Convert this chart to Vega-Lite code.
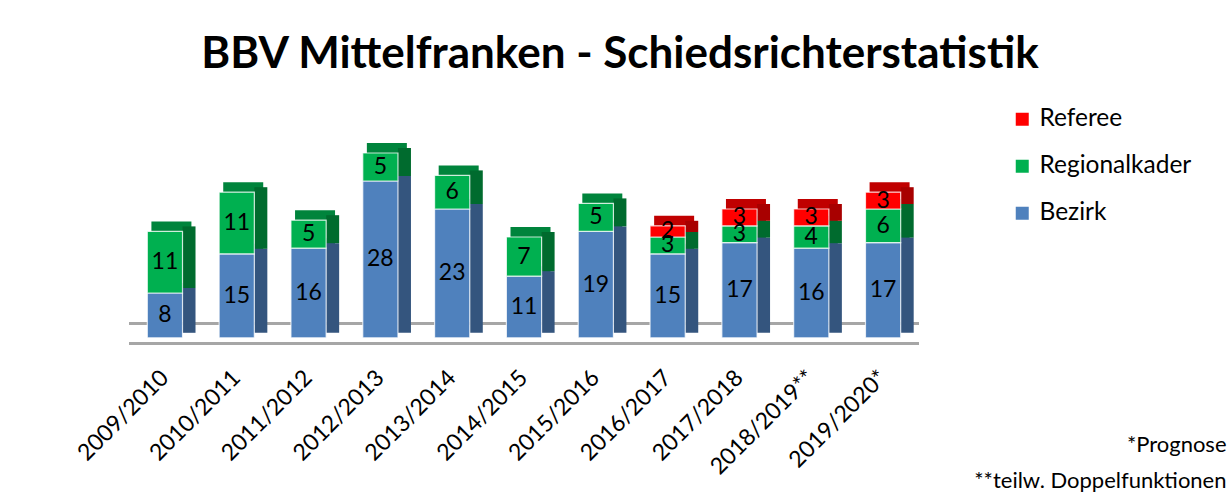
{
  "$schema": "https://vega.github.io/schema/vega-lite/v6.json",
  "width": 790,
  "height": 212.8,
  "autosize": "none",
  "padding": {"left": 129, "top": 125, "right": 312, "bottom": 163},
  "background": "white",
  "config": {"view": {"stroke": null}, "font": "Lato"},
  "title": {
    "text": "BBV Mittelfranken - Schiedsrichterstatistik",
    "fontSize": 44, "font": "Lato", "fontWeight": "bold", "color": "black",
    "anchor": "middle", "frame": "group", "dx": 96, "offset": -5, "baseline": "alphabetic"
  },
  "datasets": {
    "seriesOrder": [
      {"series": "Bezirk", "rank": 1},
      {"series": "Regionalkader", "rank": 2},
      {"series": "Referee", "rank": 3}
    ],
    "refs": [
      {"season": "2009/2010", "series": "Bezirk", "value": 8},
      {"season": "2009/2010", "series": "Regionalkader", "value": 11},
      {"season": "2010/2011", "series": "Bezirk", "value": 15},
      {"season": "2010/2011", "series": "Regionalkader", "value": 11},
      {"season": "2011/2012", "series": "Bezirk", "value": 16},
      {"season": "2011/2012", "series": "Regionalkader", "value": 5},
      {"season": "2012/2013", "series": "Bezirk", "value": 28},
      {"season": "2012/2013", "series": "Regionalkader", "value": 5},
      {"season": "2013/2014", "series": "Bezirk", "value": 23},
      {"season": "2013/2014", "series": "Regionalkader", "value": 6},
      {"season": "2014/2015", "series": "Bezirk", "value": 11},
      {"season": "2014/2015", "series": "Regionalkader", "value": 7},
      {"season": "2015/2016", "series": "Bezirk", "value": 19},
      {"season": "2015/2016", "series": "Regionalkader", "value": 5},
      {"season": "2016/2017", "series": "Bezirk", "value": 15},
      {"season": "2016/2017", "series": "Regionalkader", "value": 3},
      {"season": "2016/2017", "series": "Referee", "value": 2},
      {"season": "2017/2018", "series": "Bezirk", "value": 17},
      {"season": "2017/2018", "series": "Regionalkader", "value": 3},
      {"season": "2017/2018", "series": "Referee", "value": 3},
      {"season": "2018/2019**", "series": "Bezirk", "value": 16},
      {"season": "2018/2019**", "series": "Regionalkader", "value": 4},
      {"season": "2018/2019**", "series": "Referee", "value": 3},
      {"season": "2019/2020*", "series": "Bezirk", "value": 17},
      {"season": "2019/2020*", "series": "Regionalkader", "value": 6},
      {"season": "2019/2020*", "series": "Referee", "value": 3}
    ]
  },
  "data": {"name": "refs"},
  "transform": [
    {"lookup": "series", "from": {"data": {"name": "seriesOrder"}, "key": "series", "fields": ["rank"]}}
  ],
  "resolve": {"scale": {"color": "independent"}},
  "layer": [
    {
      "mark": {"type": "rule", "color": "#A6A6A6", "strokeWidth": 2.5, "yOffset": -14},
      "encoding": {"y": {"datum": 0, "type": "quantitative", "scale": {"domain": [0, 38]}, "axis": null}}
    },
    {
      "mark": {"type": "tick", "size": 40, "thickness": 10, "xOffset": 6.5, "yOffset": -5, "opacity": 1},
      "encoding": {
        "x": {"field": "season", "type": "nominal", "sort": null, "scale": {"paddingInner": 0.51, "paddingOuter": 0.255}},
        "y": {"field": "value", "type": "quantitative", "stack": "zero", "scale": {"domain": [0, 38]}, "axis": null},
        "order": {"field": "rank", "type": "quantitative", "sort": "ascending"},
        "color": {"field": "series", "type": "nominal", "scale": {"domain": ["Referee", "Regionalkader", "Bezirk"], "range": ["#C00000", "#00843C", "#385D8A"]}, "legend": null}
      }
    },
    {
      "mark": {"type": "bar", "width": 13, "xOffset": 24.1, "yOffset": -5, "y2Offset": -5},
      "encoding": {
        "x": {"field": "season", "type": "nominal", "sort": null, "scale": {"paddingInner": 0.51, "paddingOuter": 0.255}},
        "y": {"field": "value", "type": "quantitative", "stack": "zero", "scale": {"domain": [0, 38]}, "axis": null},
        "order": {"field": "rank", "type": "quantitative", "sort": "ascending"},
        "color": {"field": "series", "type": "nominal", "scale": {"domain": ["Referee", "Regionalkader", "Bezirk"], "range": ["#A80000", "#006B2E", "#34557E"]}, "legend": null}
      }
    },
    {
      "mark": {"type": "bar", "stroke": "#FFFFFF", "strokeWidth": 1.2, "strokeOpacity": 0.75},
      "encoding": {
        "x": {
          "field": "season", "type": "nominal", "sort": null,
          "scale": {"paddingInner": 0.51, "paddingOuter": 0.255},
          "axis": {
            "labelAngle": -45, "labelAlign": "right", "labelBaseline": "middle",
            "labelFontSize": 23, "labelColor": "black", "labelPadding": 36,
            "labelOverlap": false, "labelLimit": 0,
            "domain": false, "ticks": false, "grid": false,
            "title": ["*Prognose", "**teilw. Doppelfunktionen"],
            "titleFontSize": 22, "titleFontWeight": "normal", "titleColor": "black",
            "titleAlign": "right", "titleAngle": 0, "titleBaseline": "top",
            "titleLineHeight": 36, "titleX": 1097, "titleY": 97
          }
        },
        "y": {"field": "value", "type": "quantitative", "stack": "zero", "scale": {"domain": [0, 38]}, "axis": null},
        "order": {"field": "rank", "type": "quantitative", "sort": "ascending"},
        "color": {
          "field": "series", "type": "nominal",
          "scale": {"domain": ["Referee", "Regionalkader", "Bezirk"], "range": ["#FF0000", "#00B050", "#4F81BD"]},
          "legend": {
            "orient": "none", "legendX": 881, "legendY": -18, "title": null,
            "symbolType": "square", "symbolSize": 169, "symbolStrokeWidth": 0,
            "labelFontSize": 24.5, "labelColor": "black", "labelOffset": 5,
            "rowPadding": 22, "labelLimit": 0
          }
        }
      }
    },
    {
      "mark": {"type": "text", "fontSize": 23, "baseline": "middle", "align": "center"},
      "encoding": {
        "x": {"field": "season", "type": "nominal", "sort": null, "scale": {"paddingInner": 0.51, "paddingOuter": 0.255}},
        "y": {"field": "value", "type": "quantitative", "stack": "zero", "bandPosition": 0.5, "scale": {"domain": [0, 38]}, "axis": null},
        "order": {"field": "rank", "type": "quantitative", "sort": "ascending"},
        "color": {"field": "series", "type": "nominal", "scale": {"domain": ["Referee", "Regionalkader", "Bezirk"], "range": ["#000000", "#000000", "#000000"]}, "legend": null},
        "text": {"field": "value", "type": "quantitative"}
      }
    },
    {
      "mark": {"type": "rule", "color": "#A6A6A6", "strokeWidth": 2.5, "yOffset": 6},
      "encoding": {"y": {"datum": 0, "type": "quantitative", "scale": {"domain": [0, 38]}, "axis": null}}
    }
  ]
}
